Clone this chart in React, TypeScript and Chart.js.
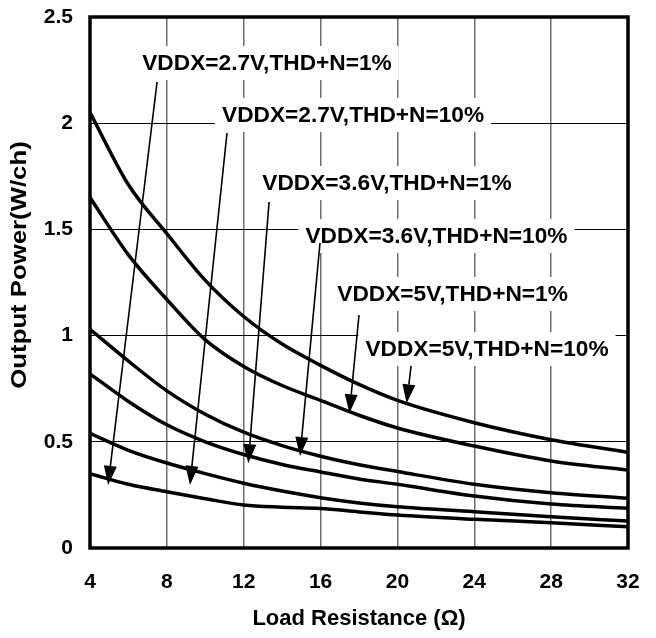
import React, { useEffect, useRef } from "react";
import { Chart, registerables } from "chart.js";

Chart.register(...registerables);

// Load resistance (ohm)
const loadResistance = [4, 6, 8, 10, 12, 14, 16, 18, 20, 24, 28, 32];
// Output power (W/ch)
const p27v1 = [0.35, 0.3, 0.265, 0.232, 0.202, 0.192, 0.186, 0.17, 0.155, 0.135, 0.119, 0.1];
const p27v10 = [0.54, 0.46, 0.4, 0.35, 0.305, 0.268, 0.237, 0.212, 0.194, 0.171, 0.147, 0.127];
const p36v1 = [0.82, 0.69, 0.58, 0.5, 0.44, 0.393, 0.358, 0.325, 0.3, 0.245, 0.207, 0.187];
const p36v10 = [1.03, 0.88, 0.74, 0.63, 0.545, 0.482, 0.432, 0.392, 0.36, 0.3, 0.26, 0.234];
const p5v1 = [1.65, 1.38, 1.17, 0.98, 0.855, 0.765, 0.695, 0.625, 0.565, 0.48, 0.41, 0.367];
const p5v10 = [2.05, 1.71, 1.48, 1.26, 1.09, 0.96, 0.86, 0.77, 0.695, 0.59, 0.51, 0.45];

const seriesNames = [
  "VDDX=2.7V,THD+N=1%",
  "VDDX=2.7V,THD+N=10%",
  "VDDX=3.6V,THD+N=1%",
  "VDDX=3.6V,THD+N=10%",
  "VDDX=5V,THD+N=1%",
  "VDDX=5V,THD+N=10%",
];
const seriesValues = [p27v1, p27v10, p36v1, p36v10, p5v1, p5v10];

// Annotation label centres and arrow start/tip, in data units (ohm, W)
const labelX = [13.21, 17.69, 19.46, 22.03, 22.87, 24.66];
const labelY = [2.283, 2.039, 1.718, 1.469, 1.196, 0.937];
const arrowFromX = [7.49, 11.13, 13.32, 15.97, 18.0, 20.71];
const arrowFromY = [2.194, 1.954, 1.629, 1.436, 1.097, 0.857];
const arrowToX = [4.94, 9.2, 12.24, 14.93, 17.5, 20.48];
const arrowToY = [0.297, 0.297, 0.399, 0.433, 0.634, 0.681];

const xTickMin = 4;
const xTickMax = 32;
const xTickStep = 4;
const yTickMin = 0;
const yTickMax = 2.5;
const yTickStep = 0.5;

const xTitle = "Load Resistance (Ω)";
const yTitle = "Output Power(W/ch)";

const FONT_FAMILY = '"Liberation Sans", Arial, sans-serif';

const annotationPlugin = {
  id: "arrowLabels",
  afterDatasetsDraw(chart: any) {
    const ctx = chart.ctx;
    const xs = chart.scales.x;
    const ys = chart.scales.y;
    ctx.save();
    ctx.font = `bold 22.7px ${FONT_FAMILY}`;
    ctx.textAlign = "center";
    ctx.textBaseline = "middle";
    seriesNames.forEach((name, i) => {
      const cx = xs.getPixelForValue(labelX[i]);
      const cy = ys.getPixelForValue(labelY[i]);
      const w = ctx.measureText(name).width;
      ctx.fillStyle = "#ffffff";
      ctx.fillRect(cx - w / 2 - 7, cy - 17, w + 14, 34);
      ctx.fillStyle = "#000000";
      ctx.fillText(name, cx, cy + 1);
    });
    seriesNames.forEach((_, i) => {
      const x0 = xs.getPixelForValue(arrowFromX[i]);
      const y0 = ys.getPixelForValue(arrowFromY[i]);
      const x1 = xs.getPixelForValue(arrowToX[i]);
      const y1 = ys.getPixelForValue(arrowToY[i]);
      const ang = Math.atan2(y1 - y0, x1 - x0);
      const headLen = 19;
      const headHalf = 6.5;
      const bx = x1 - headLen * Math.cos(ang);
      const by = y1 - headLen * Math.sin(ang);
      ctx.strokeStyle = "#000";
      ctx.lineWidth = 1.6;
      ctx.beginPath();
      ctx.moveTo(x0, y0);
      ctx.lineTo(bx, by);
      ctx.stroke();
      ctx.fillStyle = "#000";
      ctx.beginPath();
      ctx.moveTo(x1, y1);
      ctx.lineTo(bx + headHalf * Math.sin(ang), by - headHalf * Math.cos(ang));
      ctx.lineTo(bx - headHalf * Math.sin(ang), by + headHalf * Math.cos(ang));
      ctx.closePath();
      ctx.fill();
    });
    ctx.restore();
  },
  afterDraw(chart: any) {
    const { ctx, chartArea } = chart;
    ctx.save();
    ctx.strokeStyle = "#000";
    ctx.lineWidth = 3.5;
    ctx.strokeRect(chartArea.left, chartArea.top, chartArea.right - chartArea.left, chartArea.bottom - chartArea.top);
    // y axis title (slightly elongated like the reference)
    ctx.translate(20, chartArea.top + (chartArea.bottom - chartArea.top) * 0.467);
    ctx.rotate(-Math.PI / 2);
    ctx.scale(1.17, 1);
    ctx.font = `bold 22px ${FONT_FAMILY}`;
    ctx.fillStyle = "#000";
    ctx.textAlign = "center";
    ctx.textBaseline = "middle";
    ctx.fillText(yTitle, 0, 0);
    ctx.restore();
  },
};

const zeroPadding = (scale: any) => {
  scale.paddingTop = 0;
  scale.paddingBottom = 0;
  scale.paddingLeft = 0;
  scale.paddingRight = 0;
};

export default function App() {
  const canvasRef = useRef<HTMLCanvasElement | null>(null);

  useEffect(() => {
    document.body.style.margin = "0";
    const canvas = canvasRef.current;
    if (!canvas) return;
    const chart = new Chart(canvas, {
      type: "line",
      data: {
        datasets: seriesValues.map((vals, i) => ({
          label: seriesNames[i],
          data: loadResistance.map((r, j) => ({ x: r, y: vals[j] })),
          borderColor: "#000000",
          backgroundColor: "#000000",
          borderWidth: 3.5,
          pointRadius: 0,
          fill: false,
          cubicInterpolationMode: "monotone" as const,
        })),
      },
      options: {
        responsive: false,
        animation: false,
        layout: { padding: { top: 17, right: 28, left: 0, bottom: 0 } },
        plugins: {
          legend: { display: false },
          tooltip: { enabled: false },
        },
        scales: {
          x: {
            type: "linear",
            min: xTickMin,
            max: xTickMax,
            afterFit: (scale: any) => {
              scale.height = 90;
              zeroPadding(scale);
            },
            ticks: {
              stepSize: xTickStep,
              color: "#000",
              padding: 22,
              font: { family: FONT_FAMILY, size: 21, weight: "bold" },
              callback: (v: any) => String(v),
            },
            grid: { color: "#6e6e6e", lineWidth: 1.5, drawTicks: false },
            border: { display: false },
            title: {
              display: true,
              text: xTitle,
              color: "#000",
              font: { family: FONT_FAMILY, size: 22, weight: "bold" },
              padding: { top: 0, bottom: 6 },
            },
          },
          y: {
            type: "linear",
            min: yTickMin,
            max: yTickMax,
            afterFit: (scale: any) => {
              scale.width = 90;
              zeroPadding(scale);
            },
            ticks: {
              stepSize: yTickStep,
              color: "#000",
              padding: 17,
              font: { family: FONT_FAMILY, size: 21, weight: "bold" },
              callback: (v: any) => String(v),
            },
            grid: { color: "#000", lineWidth: 1, drawTicks: false },
            border: { display: false },
            title: { display: false },
          },
        },
      },
      plugins: [annotationPlugin],
    });
    return () => chart.destroy();
  }, []);

  return (
    <div style={{ width: 656, height: 638, background: "#fff" }}>
      <canvas ref={canvasRef} width={656} height={638} style={{ display: "block" }} />
    </div>
  );
}
